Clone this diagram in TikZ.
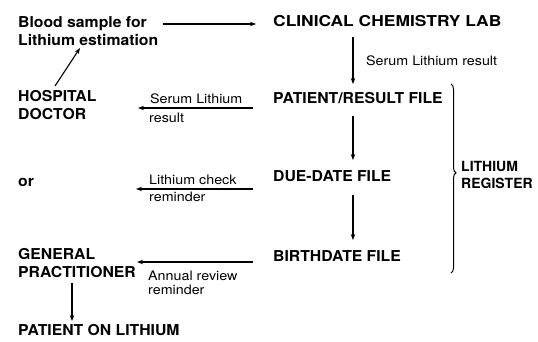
\documentclass[tikz,border=0pt]{standalone}
\usepackage{fontspec}
\setmainfont{TeX Gyre Heros}
\newfontfamily\bigfont[FakeStretch=1.05]{TeX Gyre Heros}
\newfontfamily\widefont[FakeStretch=1.16]{TeX Gyre Heros}
\newfontfamily\smallfont[FakeStretch=1.1]{TeX Gyre Heros}
\usetikzlibrary{arrows.meta,decorations.pathreplacing}
\begin{document}
\begin{tikzpicture}[x=1pt,y=-1pt,
  big/.style={anchor=west,inner sep=0pt,font=\bigfont\bfseries\fontsize{15}{17.5}\selectfont,align=left},
  wide/.style={big,font=\widefont\bfseries\fontsize{15}{17.5}\selectfont},
  narrow/.style={big,font=\bfseries\fontsize{14}{17.5}\selectfont},
  small/.style={anchor=west,inner sep=0pt,font=\smallfont\fontsize{13}{14.5}\selectfont,align=left},
  arr/.style={line width=1.1pt,-{Stealth[length=6pt,width=4.5pt]}}]
\useasboundingbox (0,0) rectangle (538,341);
\node[big] (blood) at (18,31) {Blood sample for\\Lithium estimation};
\node[wide] (lab) at (273,21) {CLINICAL CHEMISTRY LAB};
\node[big] (prf) at (273,98) {PATIENT/RESULT FILE};
\node[big] (due) at (273,176) {DUE-DATE FILE};
\node[big] (birth) at (273,256) {BIRTHDATE FILE};
\node[big] (hosp) at (18,105) {HOSPITAL\\DOCTOR};
\node[big] (or) at (18,182) {or};
\node[big] (gp) at (18,263) {GENERAL\\PRACTITIONER};
\node[big] (pol) at (18,330) {PATIENT ON LITHIUM};
\node[narrow] (reg) at (461,175) {LITHIUM\\REGISTER};

\coordinate (a1s) at (163,24); \coordinate (a1e) at (256,24);
\draw[arr] (a1s) -- (a1e);
\coordinate (a2s) at (353,37); \coordinate (a2e) at (353,84);
\draw[arr] (a2s) -- (a2e);
\node[small] (l2) at (366,61) {Serum Lithium result};
\coordinate (a3s) at (353,116); \coordinate (a3e) at (353,160);
\draw[arr] (a3s) -- (a3e);
\coordinate (a4s) at (353,195); \coordinate (a4e) at (353,240);
\draw[arr] (a4s) -- (a4e);

\coordinate (h1) at (55,86); \coordinate (h2) at (80,48);
\draw[arr] (h1) -- (h2);

\coordinate (b1s) at (253,108); \coordinate (b1e) at (138,108);
\draw[arr] (b1s) -- (b1e);
\node[small] (lb1) at (150,99) {Serum Lithium};
\node[small] (lb1b) at (149,118) {result};
\coordinate (b2s) at (253,189); \coordinate (b2e) at (136,189);
\draw[arr] (b2s) -- (b2e);
\node[small] (lb2) at (149,180) {Lithium check};
\node[small] (lb2b) at (149,197) {reminder};
\coordinate (b3s) at (253,262); \coordinate (b3e) at (137,262);
\draw[arr] (b3s) -- (b3e);
\node[small] (lb3) at (148,283) {Annual review\\reminder};

\coordinate (g1) at (72,283); \coordinate (g2) at (72,321);
\draw[arr] (g1) -- (g2);

\coordinate (br1) at (451,84); \coordinate (br2) at (451,273);
\draw[line width=1pt,decorate,decoration={brace,amplitude=5pt,aspect=0.47}] (br1) -- (br2);
\end{tikzpicture}
\end{document}
